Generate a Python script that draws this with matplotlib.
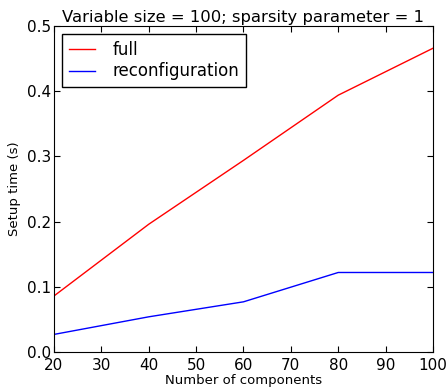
# Setup time vs number of components
import numpy as np
import matplotlib
matplotlib.use('Agg')
import matplotlib.pyplot as plt

# data
components = [20, 40, 60, 80, 100]
full_time = [0.086, 0.196, 0.294, 0.394, 0.466]
reconf_time = [0.027, 0.054, 0.077, 0.122, 0.122]

plt.rcParams['xtick.direction'] = 'in'
plt.rcParams['ytick.direction'] = 'in'
plt.rcParams['xtick.top'] = True
plt.rcParams['ytick.right'] = True
plt.rcParams['xtick.major.size'] = 4
plt.rcParams['ytick.major.size'] = 4

fig = plt.figure(figsize=(4.48, 3.92), dpi=100)
ax = fig.add_axes([0.1205, 0.102, 0.846, 0.8315])
ax.plot(components, full_time, color='r', lw=1, label='full')
ax.plot(components, reconf_time, color='b', lw=1, label='reconfiguration')
ax.set_xlim(20, 100)
ax.set_ylim(0, 0.5)
ax.set_xticks(np.arange(20, 101, 10))
ax.set_yticks(np.arange(0, 0.51, 0.1))
ax.tick_params(axis='y', labelsize=11, pad=2)
ax.tick_params(axis='x', labelsize=11, pad=4)
ax.set_title("Variable size = 100; sparsity parameter = 1", fontsize=11.8, pad=3)
ax.set_xlabel("Number of components", fontsize=9.5, labelpad=1)
ax.set_ylabel("Setup time (s)", fontsize=9.5)
leg = ax.legend(loc='upper left', fontsize=12, fancybox=False, framealpha=1,
                handlelength=1.55, handletextpad=1.05, borderpad=0.4,
                labelspacing=0.2, borderaxespad=0.5)
leg.get_frame().set_edgecolor('black')
plt.savefig('out.png', dpi=100)
